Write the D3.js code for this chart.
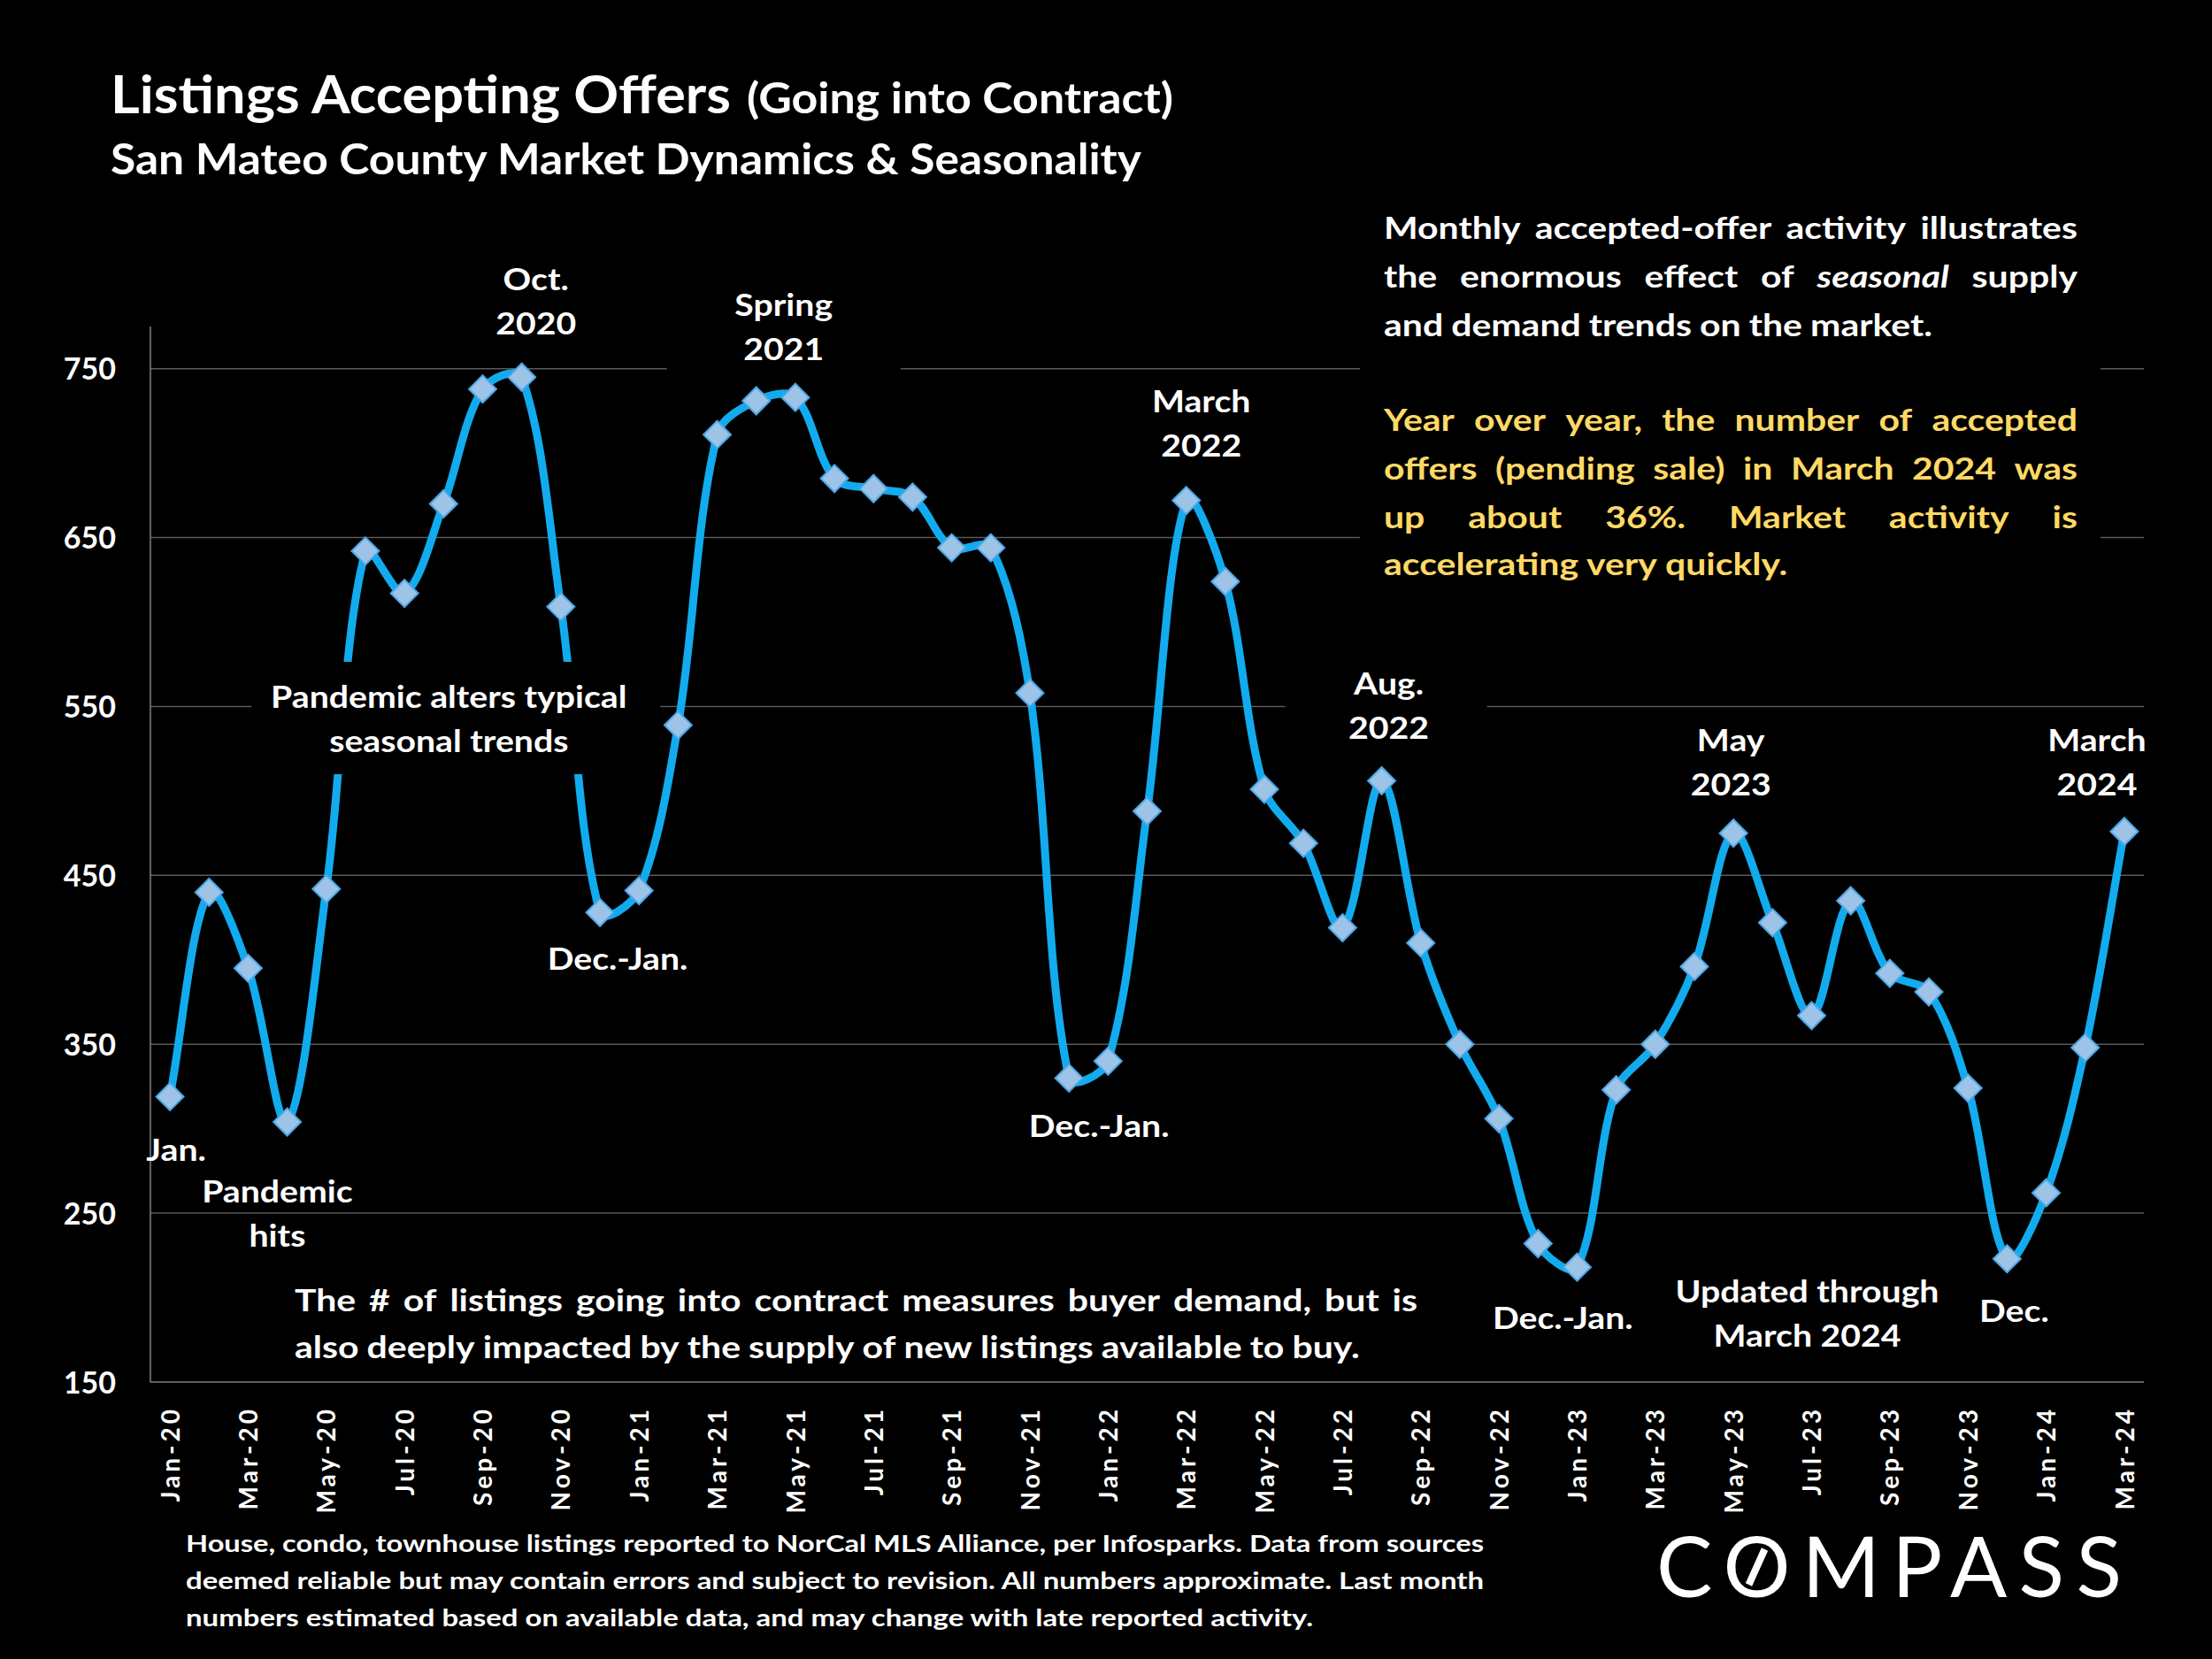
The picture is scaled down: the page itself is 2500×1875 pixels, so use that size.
<!DOCTYPE html>
<html>
<head>
  <meta charset="utf-8">
  <title>Listings Accepting Offers - San Mateo County</title>
  <script src="https://d3js.org/d3.v7.min.js"></script>
  <style>
    body { margin: 0; background: #000; }
    svg { display: block; }
    text { font-family: Lato, "Open Sans", sans-serif; font-weight: bold; fill: #fff; }
    .tick text { font-family: Lato, sans-serif; font-weight: bold; fill: #fff; }
  </style>
</head>
<body>
  <svg id="chart" width="2500" height="1875"></svg>

  <script>
    // months on the x axis
    const months = [
      "Jan-20", "Feb-20", "Mar-20", "Apr-20", "May-20", "Jun-20", "Jul-20", "Aug-20", "Sep-20", "Oct-20", "Nov-20", "Dec-20",
      "Jan-21", "Feb-21", "Mar-21", "Apr-21", "May-21", "Jun-21", "Jul-21", "Aug-21", "Sep-21", "Oct-21", "Nov-21", "Dec-21",
      "Jan-22", "Feb-22", "Mar-22", "Apr-22", "May-22", "Jun-22", "Jul-22", "Aug-22", "Sep-22", "Oct-22", "Nov-22", "Dec-22",
      "Jan-23", "Feb-23", "Mar-23", "Apr-23", "May-23", "Jun-23", "Jul-23", "Aug-23", "Sep-23", "Oct-23", "Nov-23", "Dec-23",
      "Jan-24", "Feb-24", "Mar-24"
    ];

    // listings accepting offers per month
    const offers = [
      319, 440, 395, 304, 442, 642, 617, 670, 738, 745, 609, 428,
      441, 539, 711, 731, 733, 685, 679, 674, 644, 644, 558, 330,
      340, 488, 672, 624, 501, 469, 419, 506, 410, 350, 306, 232,
      218, 323, 350, 396, 475, 422, 367, 435, 392, 381, 324, 223,
      262, 348, 476
    ];

    const yTicks = [150, 250, 350, 450, 550, 650, 750];
    // every other month gets a label
    const xTicks = months.filter((m, i) => i % 2 === 0);

    const svg = d3.select("#chart");

    const plotLeft = 170, plotRight = 2423, plotBottom = 1562, plotTop = 369;

    const x = d3.scalePoint().domain(months).range([plotLeft, plotRight]).padding(0.5);
    const y = d3.scaleLinear().domain([150, 775]).range([plotBottom, plotTop]);

    // gridlines
    svg.append("g")
      .selectAll("line")
      .data(yTicks.filter(t => t > 150))
      .join("line")
      .attr("x1", plotLeft).attr("x2", plotRight)
      .attr("y1", d => y(d)).attr("y2", d => y(d))
      .attr("stroke", "#5a5a5a")
      .attr("stroke-width", 1.5);

    // axis lines
    svg.append("line")
      .attr("x1", plotLeft).attr("x2", plotLeft)
      .attr("y1", y(775)).attr("y2", plotBottom)
      .attr("stroke", "#808080").attr("stroke-width", 1.5);
    svg.append("line")
      .attr("x1", plotLeft).attr("x2", plotRight)
      .attr("y1", plotBottom).attr("y2", plotBottom)
      .attr("stroke", "#808080").attr("stroke-width", 1.5);

    // y axis labels
    const yAxis = svg.append("g")
      .attr("transform", `translate(${plotLeft},0)`)
      .call(d3.axisLeft(y).tickValues(yTicks).tickSize(0).tickPadding(39));
    yAxis.select(".domain").remove();
    yAxis.selectAll("text").attr("font-size", 34).attr("dy", "0.36em");

    // x axis labels, rotated
    const xAxis = svg.append("g")
      .attr("transform", `translate(0,${plotBottom})`)
      .call(d3.axisBottom(x).tickValues(xTicks).tickSize(0));
    xAxis.select(".domain").remove();
    xAxis.selectAll("text")
      .attr("font-size", 28)
      .attr("letter-spacing", "4px")
      .attr("transform", "rotate(-90)")
      .attr("text-anchor", "end")
      .attr("x", -27)
      .attr("y", 0)
      .attr("dy", "0.36em");

    // Excel-style smoothing: catmull-rom tangents weighted by segment length
    function smoothPath(pts) {
      const p = d3.path();
      const dist = (a, b) => Math.hypot(b[0] - a[0], b[1] - a[1]);
      p.moveTo(pts[0][0], pts[0][1]);
      for (let i = 0; i < pts.length - 1; i++) {
        const p0 = pts[i - 1] || pts[i], p1 = pts[i], p2 = pts[i + 1], p3 = pts[i + 2] || pts[i + 1];
        const d01 = dist(p0, p1), d12 = dist(p1, p2), d23 = dist(p2, p3);
        const a = d01 + d12 > 0 ? d12 / (d01 + d12) / 3 : 0;
        const b = d12 + d23 > 0 ? d12 / (d12 + d23) / 3 : 0;
        p.bezierCurveTo(
          p1[0] + (p2[0] - p0[0]) * a, p1[1] + (p2[1] - p0[1]) * a,
          p2[0] - (p3[0] - p1[0]) * b, p2[1] - (p3[1] - p1[1]) * b,
          p2[0], p2[1]);
      }
      return p.toString();
    }

    svg.append("path")
      .attr("d", smoothPath(offers.map((d, i) => [x(months[i]), y(d)])))
      .attr("fill", "none")
      .attr("stroke", "#12abee")
      .attr("stroke-width", 9)
      .attr("stroke-linejoin", "round");

    // diamond markers
    const diamond = d3.symbol().type(d3.symbolSquare).size(480);
    svg.append("g")
      .selectAll("path")
      .data(offers)
      .join("path")
      .attr("d", diamond)
      .attr("transform", (d, i) => `translate(${x(months[i])},${y(d)}) rotate(45)`)
      .attr("fill", "#9dc3e6")
      .attr("stroke", "#4aa8e8")
      .attr("stroke-width", 2);

    // annotation labels (text boxes with black fill, some of which hide gridlines)
    const notes = [
      { m: "Oct-20", dx: 16, y: 328, lines: ["Oct.", "2020"] },
      { m: "Apr-21", dx: 31, y: 357, lines: ["Spring", "2021"], box: [-132, 132, 300, 425] },
      { m: "Mar-22", dx: 17, y: 466, lines: ["March", "2022"], box: [-116, 117, 420, 528] },
      { m: "Aug-22", dx: 8, y: 785, lines: ["Aug.", "2022"], box: [-117, 111, 745, 852] },
      { m: "May-23", dx: -3, y: 849, lines: ["May", "2023"], box: [-126, 127, 808, 912] },
      { m: "Mar-24", dx: -31, y: 849, lines: ["March", "2024"], box: [-93, 100, 808, 912] },
      { m: "Jan-20", dx: 7, y: 1312, lines: ["Jan."] },
      { m: "Mar-20", dx: 33, y: 1359, lines: ["Pandemic", "hits"] },
      { m: "Aug-20", dx: 6, y: 800, lines: ["Pandemic alters typical", "seasonal trends"], box: [-223, 239, 748, 875] },
      { m: "Dec-20", dx: 20, y: 1096, lines: ["Dec.-Jan."] },
      { m: "Dec-21", dx: 34, y: 1285, lines: ["Dec.-Jan."] },
      { m: "Dec-22", dx: 28, y: 1502, lines: ["Dec.-Jan."] },
      { m: "Jul-23", dx: -5, y: 1472, lines: ["Updated through", "March 2024"] },
      { m: "Dec-23", dx: 8, y: 1494, lines: ["Dec."] }
    ];

    const noteG = svg.append("g");
    notes.forEach(n => {
      const cx = x(n.m) + n.dx;
      if (n.box) {
        noteG.append("rect")
          .attr("x", cx + n.box[0])
          .attr("y", n.box[2])
          .attr("width", n.box[1] - n.box[0])
          .attr("height", n.box[3] - n.box[2])
          .attr("fill", "#000");
      }
      n.lines.forEach((t, i) => {
        const tx = noteG.append("text")
          .attr("x", cx)
          .attr("y", n.y + i * 50)
          .attr("text-anchor", "middle")
          .attr("font-size", 35)
          .text(t);
        // Calibri in the slide runs a little wider
        tx.attr("textLength", tx.node().getComputedTextLength() * 1.12)
          .attr("lengthAdjust", "spacingAndGlyphs");
      });
    });

    // word-by-word justified line, like the text boxes in the slide
    function textLine(g, str, x0, x1, yy, size, color, justify, stretch) {
      const words = str.split(" ");
      const items = words.map(w => {
        const italic = w.startsWith("*");
        const t = g.append("text")
          .attr("y", yy)
          .attr("font-size", size)
          .style("fill", color)
          .text(italic ? w.slice(1) : w);
        if (italic) t.attr("font-style", "italic");
        return t;
      });
      let widths = items.map(t => t.node().getComputedTextLength() * stretch);
      const total = d3.sum(widths);
      const space = size * 0.26;
      let gap = justify ? (x1 - x0 - total) / (items.length - 1) : space;
      if (justify && gap < space) {
        const k = (x1 - x0 - space * (items.length - 1)) / total;
        widths = widths.map(w => w * k);
        gap = space;
      }
      items.forEach((t, i) => t.attr("textLength", widths[i]).attr("lengthAdjust", "spacingAndGlyphs"));
      let cx = x0;
      items.forEach((t, i) => { t.attr("x", cx); cx += widths[i] + gap; });
    }

    // fit a single text to a measured width
    function fit(t, w) {
      const n = t.node().getComputedTextLength();
      if (Math.abs(n - w) > 2) t.attr("textLength", w).attr("lengthAdjust", "spacingAndGlyphs");
      return t;
    }

    // right-hand commentary box
    const box = svg.append("g");
    box.append("rect").attr("x", 1537).attr("y", 220).attr("width", 837).attr("height", 450).attr("fill", "#000");
    const white = "#ffffff", gold = "#ffd966";
    textLine(box, "Monthly accepted-offer activity illustrates", 1564, 2348, 270, 35, white, true, 1.17);
    textLine(box, "the enormous effect of *seasonal supply", 1564, 2348, 325, 35, white, true, 1.17);
    textLine(box, "and demand trends on the market.", 1564, 2216, 380, 35, white, false, 1.17);
    textLine(box, "Year over year, the number of accepted", 1564, 2348, 487, 35, gold, true, 1.17);
    textLine(box, "offers (pending sale) in March 2024 was", 1564, 2348, 542, 35, gold, true, 1.17);
    textLine(box, "up about 36%. Market activity is", 1564, 2348, 597, 35, gold, true, 1.17);
    textLine(box, "accelerating very quickly.", 1564, 2029, 650, 35, gold, false, 1.17);

    // lower commentary
    const low = svg.append("g");
    textLine(low, "The # of listings going into contract measures buyer demand, but is", 333, 1602, 1482, 35, white, true, 1.17);
    textLine(low, "also deeply impacted by the supply of new listings available to buy.", 333, 1588, 1535, 35, white, false, 1.17);

    // titles
    fit(svg.append("text").attr("x", 125).attr("y", 128).attr("font-size", 60)
      .text("Listings Accepting Offers"), 701);
    fit(svg.append("text").attr("x", 844).attr("y", 128).attr("font-size", 47)
      .text("(Going into Contract)"), 482);
    fit(svg.append("text").attr("x", 125).attr("y", 197).attr("font-size", 47)
      .text("San Mateo County Market Dynamics & Seasonality"), 1165);

    // footnote
    const foot = [
      ["House, condo, townhouse listings reported to NorCal MLS Alliance, per Infosparks. Data from sources", 1467],
      ["deemed reliable but may contain errors and subject to revision. All numbers approximate. Last month", 1467],
      ["numbers estimated based on available data, and may change with late reported activity.", 1274]
    ];
    foot.forEach((f, i) => {
      fit(svg.append("text").attr("x", 210).attr("y", 1754 + i * 42).attr("font-size", 26).text(f[0]), f[1]);
    });

    // logo
    const logo = svg.append("text")
      .attr("x", 1872).attr("y", 1805)
      .attr("font-size", 95)
      .style("font-weight", 400)
      .attr("textLength", 526)
      .attr("lengthAdjust", "spacing")
      .text("COMPASS");
    const o = logo.node().getExtentOfChar(1);
    const ocx = o.x + o.width / 2, ocy = 1805 - 34;
    svg.append("line")
      .attr("x1", ocx - 9).attr("y1", ocy + 20)
      .attr("x2", ocx + 9).attr("y2", ocy - 20)
      .attr("stroke", "#fff").attr("stroke-width", 8);
  </script>
</body>
</html>
